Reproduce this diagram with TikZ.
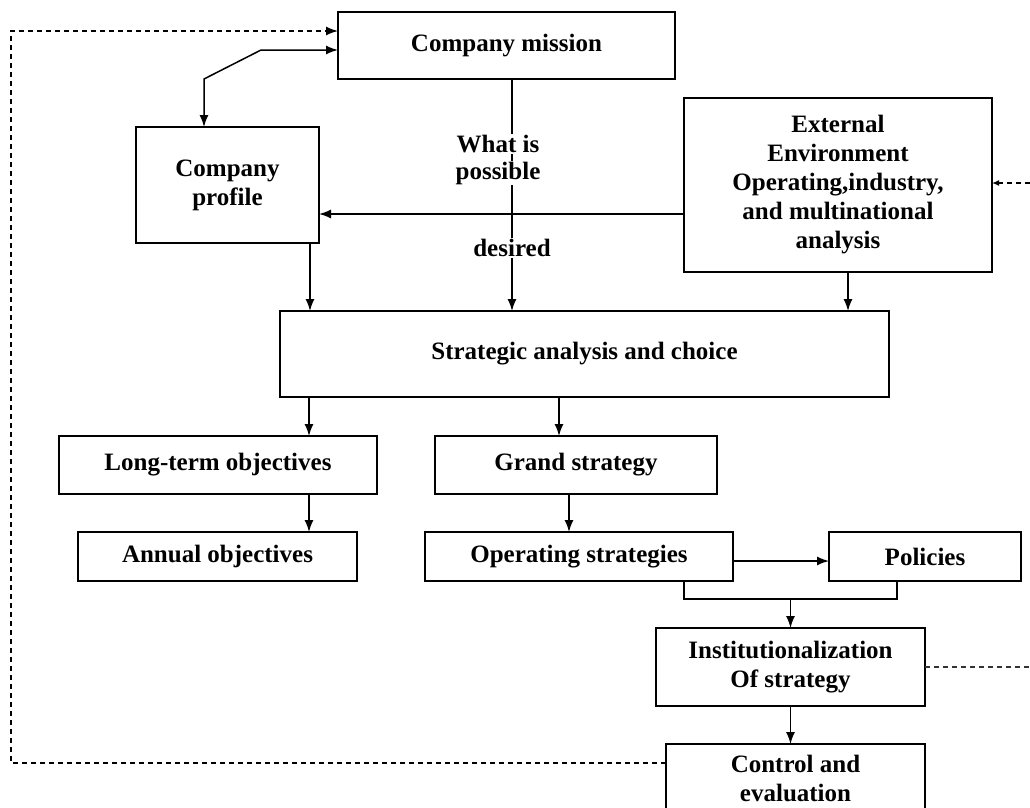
\documentclass[tikz,border=0pt]{standalone}
\usepackage{fontspec}
\setmainfont{Liberation Serif}
\usetikzlibrary{arrows.meta,calc}
\begin{document}
\begin{tikzpicture}[x=1pt,y=-1pt,
  box/.style={draw, line width=1.5pt, anchor=north west, inner sep=0pt, outer sep=0pt, align=center,
              font=\fontsize{25}{29}\selectfont\bfseries},
  lbl/.style={fill=white, inner sep=1pt, font=\fontsize{25}{29}\selectfont\bfseries},
  ln/.style={line width=1.5pt},
  arr/.style={line width=1.5pt, -{Latex[length=12pt,width=9pt]}},
  fb/.style={line width=1.4pt, black!80, dash pattern=on 5pt off 4pt}
]
\clip (0,0) rectangle (1030,807);
\fill[white] (0,0) rectangle (1030,807);

% boxes
\node[box, minimum width=337, minimum height=67] (mission) at (338,12) {Company mission};
\node[box, minimum width=183, minimum height=116] (profile) at (136,127) {Company\\profile};
\node[box, minimum width=308, minimum height=174] (ext) at (684,98) {External\\Environment\\Operating,industry,\\and multinational\\analysis};
\node[box, minimum width=609, minimum height=86] (strat) at (280,311) {Strategic analysis and choice};
\node[box, minimum width=318, minimum height=58] (lto) at (59,436) {Long-term objectives};
\node[box, minimum width=282, minimum height=58] (grand) at (435,436) {Grand strategy};
\node[box, minimum width=279, minimum height=49] (ao) at (78,532) {Annual objectives};
\node[box, minimum width=308, minimum height=49] (ops) at (425,532) {Operating strategies};
\node[box, minimum width=192, minimum height=49] (pol) at (829,532) {Policies};
\node[box, minimum width=269, minimum height=78] (inst) at (656,628) {Institutionalization\\Of strategy};
\node[box, minimum width=259, minimum height=68] (ctrl) at (666,744) {Control and\\evaluation};

% helper coordinates
\coordinate (c1) at (11,31);
\coordinate (c2) at (11,763);
\coordinate (m1) at (261,50);
\coordinate (m2) at (204,79);
\coordinate (v) at (512,0);
\coordinate (h) at (0,214);
\coordinate (x310) at (310,0);
\coordinate (x848) at (848,0);
\coordinate (x309) at (309,0);
\coordinate (x559) at (559,0);
\coordinate (x569) at (569,0);
\coordinate (y561) at (0,561);
\coordinate (b1) at (684,599);
\coordinate (b2) at (897,599);
\coordinate (r1) at (1030,183);

% mission <-> profile
\draw[ln, {Latex[length=12pt,width=9pt]}-{Latex[length=12pt,width=9pt]}]
  (mission.west |- m1) -- (m1) -- (m2) -- (m2 |- profile.north);

% mission -> strategic (with labels)
\draw[arr] (mission.south -| v) -- (strat.north -| v);
\node[lbl] (wi) at (498,144) {What is};
\node[lbl] (pos) at (498,173) {possible};
\node[lbl] (des) at (512,248) {desired};

% external -> profile
\draw[arr] (ext.west |- h) -- (profile.east |- h);

% into strategic
\draw[arr] (profile.south -| x310) -- (strat.north -| x310);
\draw[arr] (ext.south -| x848) -- (strat.north -| x848);

% out of strategic
\draw[arr] (strat.south -| x309) -- (lto.north -| x309);
\draw[arr] (strat.south -| x559) -- (grand.north -| x559);
\draw[arr] (lto.south -| x309) -- (ao.north -| x309);
\draw[arr] (grand.south -| x569) -- (ops.north -| x569);

% operating -> policies
\draw[arr] (ops.east |- y561) -- (pol.west |- y561);

% bracket -> institutionalization
\draw[ln] (ops.south -| b1) -- (b1) -- (b2) -- (pol.south -| b2);
\draw[arr] (inst.north |- b1) -- (inst.north);
\draw[arr] (inst.south) -- (inst.south |- ctrl.north);

% feedback dashed lines
\draw[fb, -{Latex[length=12pt,width=9pt]}, black]
  (ctrl.west |- c2) -- (c2) -- (c1) -- (mission.west |- c1);
\draw[fb, -{Latex[length=7pt,width=6pt]}, black] (r1) -- (ext.east |- r1);
\draw[fb] (inst.east) -- (inst.east -| r1);
\end{tikzpicture}
\end{document}
